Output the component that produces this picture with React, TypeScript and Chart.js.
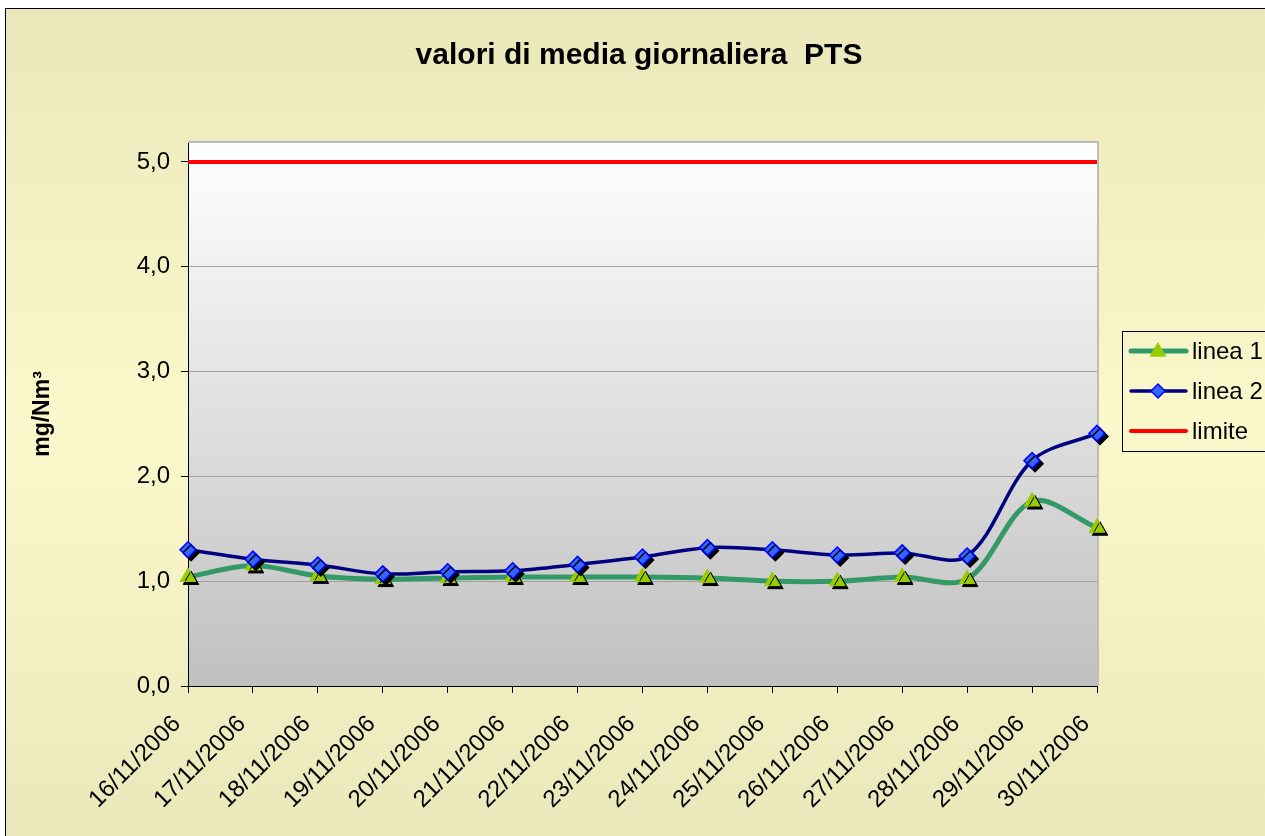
import React, { useEffect, useRef } from 'react';
import { Chart, registerables } from 'chart.js';

Chart.register(...registerables);

const CATEGORIES = [
  '16/11/2006', '17/11/2006', '18/11/2006', '19/11/2006', '20/11/2006',
  '21/11/2006', '22/11/2006', '23/11/2006', '24/11/2006', '25/11/2006',
  '26/11/2006', '27/11/2006', '28/11/2006', '29/11/2006', '30/11/2006',
];
const LINEA_1 = [1.04, 1.15, 1.05, 1.02, 1.03, 1.04, 1.04, 1.04, 1.03, 1.0, 1.0, 1.04, 1.02, 1.76, 1.51];
const LINEA_2 = [1.3, 1.21, 1.155, 1.07, 1.09, 1.1, 1.16, 1.23, 1.32, 1.3, 1.25, 1.27, 1.24, 2.15, 2.41];
const LIMITE = [5, 5, 5, 5, 5, 5, 5, 5, 5, 5, 5, 5, 5, 5, 5];
const Y_TICKS = [0, 1, 2, 3, 4, 5];
const Y_MAX = 5.19;
const TITLE = 'valori di media giornaliera  PTS';
const Y_TITLE = 'mg/Nm³';
const LEGEND_LABELS = ['linea 1', 'linea 2', 'limite'];

const FONT = '"Liberation Sans", Arial, Helvetica, sans-serif';

const GREEN = '#339966';
const TRI = '#99CC00';
const NAVY = '#000080';
const DIAMOND_FILL = '#3366FF';
const DIAMOND_BORDER = '#0000FF';
const RED = '#FF0000';

const CANVAS_W = 1278;
const CANVAS_H = 838;

const plotBgPlugin = {
  id: 'plotBg',
  beforeDraw(chart: any) {
    const { ctx, chartArea } = chart;
    const { left, top, right, bottom } = chartArea;
    ctx.save();
    const g = ctx.createLinearGradient(0, top, 0, bottom);
    g.addColorStop(0, '#FFFFFF');
    g.addColorStop(1, '#C0C0C0');
    ctx.fillStyle = g;
    ctx.fillRect(left, top, right - left, bottom - top);
    ctx.restore();
  },
  beforeDatasetsDraw(chart: any) {
    const { ctx, chartArea } = chart;
    const { left, top, right, bottom } = chartArea;
    ctx.save();
    ctx.strokeStyle = '#BDBDBD';
    ctx.lineWidth = 2;
    ctx.beginPath();
    ctx.moveTo(left, top);
    ctx.lineTo(right + 1, top);
    ctx.lineTo(right + 1, bottom);
    ctx.stroke();
    ctx.restore();
  },
};

const shadowPlugin = {
  id: 'markerShadow',
  beforeDatasetDraw(chart: any, args: any) {
    const ds = chart.data.datasets[args.index];
    if (ds.markerShadow) {
      const ctx = chart.ctx;
      ctx.save();
      ctx.shadowColor = '#000000';
      ctx.shadowOffsetX = 3;
      ctx.shadowOffsetY = 3;
      ctx.shadowBlur = 0;
    }
  },
  afterDatasetDraw(chart: any, args: any) {
    const ds = chart.data.datasets[args.index];
    if (ds.markerShadow) chart.ctx.restore();
  },
};

function drawMarker(ctx: CanvasRenderingContext2D, style: string, x: number, y: number, r: number, fill: string, stroke: string, bw: number) {
  ctx.save();
  ctx.fillStyle = fill;
  ctx.strokeStyle = stroke;
  ctx.lineWidth = bw;
  ctx.beginPath();
  if (style === 'triangle') {
    ctx.moveTo(x, y - r);
    ctx.lineTo(x + r * 0.95, y + r * 0.65);
    ctx.lineTo(x - r * 0.95, y + r * 0.65);
    ctx.closePath();
  } else if (style === 'rectRot') {
    ctx.moveTo(x - r, y);
    ctx.lineTo(x, y - r);
    ctx.lineTo(x + r, y);
    ctx.lineTo(x, y + r);
    ctx.closePath();
  }
  ctx.fill();
  ctx.stroke();
  ctx.restore();
}

const titleLegendPlugin = {
  id: 'titleLegend',
  afterDraw(chart: any) {
    const { ctx } = chart;
    const ds = chart.data.datasets;
    ctx.save();
    // Title
    ctx.fillStyle = '#000';
    ctx.font = `bold 30px ${FONT}`;
    ctx.textAlign = 'center';
    ctx.textBaseline = 'alphabetic';
    ctx.fillText(TITLE, 633, 55);

    // Legend box
    const bx = 1116, by = 322, bw = 200, bh = 120;
    ctx.strokeStyle = '#000';
    ctx.lineWidth = 1;
    ctx.strokeRect(bx + 0.5, by + 0.5, bw, bh);

    const items = [
      { line: ds[0], marker: ds[1] },
      { line: ds[2], marker: ds[3] },
      { line: ds[4], marker: null as any },
    ];
    items.forEach((it, i) => {
      const cy = by + 20 + i * 40;
      ctx.strokeStyle = it.line.borderColor;
      ctx.lineWidth = it.line.borderWidth;
      ctx.lineCap = 'round';
      ctx.beginPath();
      ctx.moveTo(bx + 9, cy);
      ctx.lineTo(bx + 64, cy);
      ctx.stroke();
      if (it.marker) {
        drawMarker(ctx, it.marker.pointStyle, bx + 36, cy, it.marker.pointRadius - 1,
          it.marker.pointBackgroundColor, it.marker.pointBorderColor, it.marker.pointBorderWidth);
      }
      ctx.fillStyle = '#000';
      ctx.font = `24px ${FONT}`;
      ctx.textAlign = 'left';
      ctx.textBaseline = 'middle';
      ctx.fillText(LEGEND_LABELS[i], bx + 70, cy + 1);
    });
    ctx.restore();
  },
};

export default function App() {
  const canvasRef = useRef<HTMLCanvasElement | null>(null);

  useEffect(() => {
    document.body.style.overflow = 'hidden';
    const canvas = canvasRef.current;
    if (!canvas) return;
    const chart = new Chart(canvas, {
      type: 'line',
      data: {
        labels: CATEGORIES,
        datasets: [
          {
            label: LEGEND_LABELS[0],
            data: LINEA_1,
            borderColor: GREEN,
            borderWidth: 5,
            pointRadius: 0,
            pointHoverRadius: 0,
            tension: 0.33,
            fill: false,
            order: 3,
          },
          {
            label: LEGEND_LABELS[0] + ' marker',
            data: LINEA_1,
            showLine: false,
            pointStyle: 'triangle',
            pointRadius: 9,
            pointBackgroundColor: TRI,
            pointBorderColor: TRI,
            pointBorderWidth: 1,
            markerShadow: true,
            clip: false,
            order: 2,
          } as any,
          {
            label: LEGEND_LABELS[1],
            data: LINEA_2,
            borderColor: NAVY,
            borderWidth: 3.5,
            pointRadius: 0,
            pointHoverRadius: 0,
            tension: 0.33,
            fill: false,
            order: 1,
          },
          {
            label: LEGEND_LABELS[1] + ' marker',
            data: LINEA_2,
            showLine: false,
            pointStyle: 'rectRot',
            pointRadius: 8,
            pointBackgroundColor: DIAMOND_FILL,
            pointBorderColor: DIAMOND_BORDER,
            pointBorderWidth: 1.5,
            markerShadow: true,
            clip: false,
            order: 0,
          } as any,
          {
            label: LEGEND_LABELS[2],
            data: LIMITE,
            borderColor: RED,
            borderWidth: 4,
            pointRadius: 0,
            pointHoverRadius: 0,
            tension: 0,
            fill: false,
            order: 4,
          },
        ],
      },
      options: {
        responsive: false,
        animation: false,
        events: [],
        layout: { padding: { top: 133, right: CANVAS_W - 1091, left: 0, bottom: 0 } },
        plugins: {
          legend: { display: false },
          title: { display: false },
          tooltip: { enabled: false },
        },
        scales: {
          x: {
            type: 'category',
            offset: false,
            grid: {
              display: true,
              drawOnChartArea: false,
              drawTicks: true,
              tickLength: 7,
              tickColor: '#000',
              offset: false,
            },
            border: { display: true, color: '#000', width: 1 },
            ticks: {
              autoSkip: false,
              maxRotation: 45,
              minRotation: 45,
              color: '#000',
              padding: 17,
              labelOffset: -11,
              font: { family: FONT, size: 24 },
            },
            afterFit(scale: any) {
              scale.height = CANVAS_H - 677;
            },
          },
          y: {
            type: 'linear',
            min: 0,
            max: Y_MAX,
            afterBuildTicks(scale: any) {
              scale.ticks = Y_TICKS.map((v) => ({ value: v }));
            },
            grid: {
              color: '#A0A0A0',
              lineWidth: 1,
              tickLength: 7,
              tickColor: '#000',
            },
            border: { display: true, color: '#000', width: 1 },
            ticks: {
              color: '#000',
              padding: 11,
              font: { family: FONT, size: 24 },
              callback: (v: any) => Number(v).toFixed(1).replace('.', ','),
            },
            title: {
              display: true,
              text: Y_TITLE,
              color: '#000',
              font: { family: FONT, size: 23, weight: 'bold' },
              padding: { top: 23, bottom: 0 },
            },
            afterFit(scale: any) {
              scale.width = 182;
            },
          },
        },
      },
      plugins: [plotBgPlugin, shadowPlugin, titleLegendPlugin],
    } as any);
    return () => chart.destroy();
  }, []);

  return (
    <div
      style={{
        position: 'fixed',
        left: 5,
        top: 8,
        width: CANVAS_W + 2,
        height: CANVAS_H + 2,
        boxSizing: 'border-box',
        border: '1px solid #000',
        background: 'linear-gradient(to bottom, #EAE8BA 0%, #FBF9CC 50%, #EAE8BA 100%)',
        overflow: 'hidden',
      }}
    >
      <canvas ref={canvasRef} width={CANVAS_W} height={CANVAS_H} style={{ display: 'block' }} />
    </div>
  );
}
